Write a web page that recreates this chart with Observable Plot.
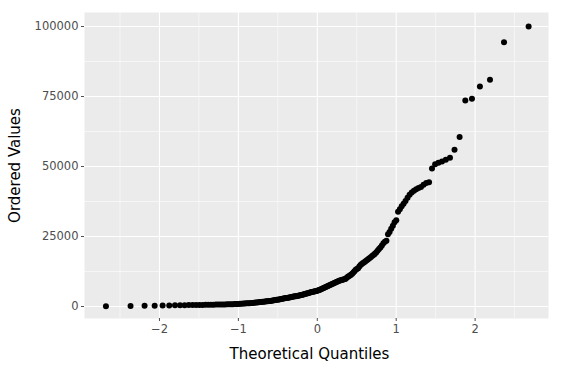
<!DOCTYPE html>
<html>
<head>
<meta charset="utf-8">
<script src="https://cdn.jsdelivr.net/npm/d3@7"></script>
<script src="https://cdn.jsdelivr.net/npm/@observablehq/plot@0.6"></script>
<style>
  html, body { margin: 0; padding: 0; background: #ffffff; }
  #chart svg { font-family: "DejaVu Sans", sans-serif; display: block; }
</style>
</head>
<body>
<div id="chart"></div>
<script>
// Ordered (sorted) sample values, lowest to highest
const orderedValues = [
  100, 200, 260, 300, 340, 380, 410, 440, 470, 490,
  510, 530, 550, 570, 590, 610, 630, 650, 670, 690,
  710, 730, 750, 770, 790, 810, 830, 850, 870, 900,
  940, 980, 1030, 1070, 1120, 1160, 1200, 1240, 1280, 1330,
  1390, 1440, 1500, 1560, 1610, 1670, 1730, 1790, 1840, 1890,
  1950, 2000, 2070, 2140, 2220, 2290, 2370, 2440, 2510, 2580,
  2660, 2750, 2830, 2910, 2990, 3070, 3150, 3230, 3310, 3380,
  3460, 3540, 3620, 3690, 3770, 3850, 3920, 4000, 4100, 4210,
  4320, 4420, 4530, 4630, 4740, 4850, 4960, 5050, 5150, 5230,
  5330, 5420, 5510, 5600, 5760, 5930, 6100, 6280, 6430, 6600,
  6770, 6950, 7140, 7320, 7500, 7670, 7840, 8020, 8200, 8360,
  8540, 8720, 8890, 9070, 9240, 9370, 9490, 9600, 9720, 9840,
  10200, 10500, 10800, 11100, 11300, 11700, 12100, 12600, 13100, 13400,
  13700, 14300, 14800, 15200, 15500, 15800, 16200, 16500, 16900, 17200,
  17600, 18000, 18400, 18800, 19300, 19900, 20500, 21100, 21800, 22600,
  23100, 23500, 25800, 26600, 27800, 28800, 30100, 30800, 33800, 34700,
  35800, 36700, 37700, 38800, 39900, 40700, 41300, 41900, 42300, 42700,
  43500, 44100, 44400, 49300, 50800, 51300, 51800, 52400, 53100, 56000,
  60500, 73600, 74200, 78600, 81000, 94400, 100000
];

const xTicks = [-2, -1, 0, 1, 2];
const xMinorTicks = [-2.5, -1.5, -0.5, 0.5, 1.5, 2.5];
const yTicks = [0, 25000, 50000, 75000, 100000];
const yMinorTicks = [12500, 37500, 62500, 87500];
const xTitle = "Theoretical Quantiles";
const yTitle = "Ordered Values";

// Inverse standard normal CDF (Acklam)
function normInv(p) {
  const a = [-3.969683028665376e+01, 2.209460984245205e+02, -2.759285104469687e+02, 1.383577518672690e+02, -3.066479806614716e+01, 2.506628277459239e+00];
  const b = [-5.447609879822406e+01, 1.615858368580409e+02, -1.556989798598866e+02, 6.680131188771972e+01, -1.328068155288572e+01];
  const c = [-7.784894002430293e-03, -3.223964580411365e-01, -2.400758277161838e+00, -2.549732539343734e+00, 4.374664141464968e+00, 2.938163982698783e+00];
  const d = [7.784695709041462e-03, 3.224671290700398e-01, 2.445134137142996e+00, 3.754408661907416e+00];
  const pl = 0.02425, ph = 1 - pl;
  let q, r;
  if (p < pl) {
    q = Math.sqrt(-2 * Math.log(p));
    return (((((c[0]*q+c[1])*q+c[2])*q+c[3])*q+c[4])*q+c[5]) / ((((d[0]*q+d[1])*q+d[2])*q+d[3])*q+1);
  } else if (p <= ph) {
    q = p - 0.5; r = q * q;
    return (((((a[0]*r+a[1])*r+a[2])*r+a[3])*r+a[4])*r+a[5])*q / (((((b[0]*r+b[1])*r+b[2])*r+b[3])*r+b[4])*r+1);
  } else {
    q = Math.sqrt(-2 * Math.log(1 - p));
    return -(((((c[0]*q+c[1])*q+c[2])*q+c[3])*q+c[4])*q+c[5]) / ((((d[0]*q+d[1])*q+d[2])*q+d[3])*q+1);
  }
}

// Filliben order-statistic medians (theoretical quantiles)
const n = orderedValues.length;
const data = orderedValues.map((v, i) => {
  let p;
  if (i === n - 1) p = Math.pow(0.5, 1 / n);
  else if (i === 0) p = 1 - Math.pow(0.5, 1 / n);
  else p = (i + 1 - 0.3175) / (n + 0.365);
  return { q: normInv(p), v };
});

const chart = Plot.plot({
  width: 562,
  height: 371,
  marginLeft: 84,
  marginRight: 14,
  marginTop: 12,
  marginBottom: 53,
  style: { fontFamily: "DejaVu Sans, sans-serif", background: "#ffffff" },
  x: { domain: [-2.95, 2.93] },
  y: { domain: [-4290, 105000] },
  marks: [
    Plot.frame({ fill: "#EBEBEB", stroke: null }),
    Plot.gridX({ ticks: xMinorTicks, stroke: "#ffffff", strokeOpacity: 1, strokeWidth: 0.55 }),
    Plot.gridY({ ticks: yMinorTicks, stroke: "#ffffff", strokeOpacity: 1, strokeWidth: 0.55 }),
    Plot.gridX({ ticks: xTicks, stroke: "#ffffff", strokeOpacity: 1, strokeWidth: 1.1 }),
    Plot.gridY({ ticks: yTicks, stroke: "#ffffff", strokeOpacity: 1, strokeWidth: 1.1 }),
    Plot.axisX({ ticks: xTicks, tickSize: 3, tickPadding: 3, fontSize: 11.5, color: "#4D4D4D", label: null, tickFormat: d => d < 0 ? "\u2212" + Math.abs(d) : String(d) }),
    Plot.axisY({ ticks: yTicks, tickSize: 3, tickPadding: 3, fontSize: 11.5, color: "#4D4D4D", label: null, tickFormat: d => String(d) }),
    Plot.dot(data, { x: "q", y: "v", r: 3, fill: "#000000", stroke: null }),
    Plot.text([xTitle], { text: d => d, frameAnchor: "bottom", dx: -7, dy: 36, fontSize: 15, fill: "#000000", lineAnchor: "middle", textAnchor: "middle" }),
    Plot.text([yTitle], { text: d => d, frameAnchor: "left", dx: -69, rotate: -90, fontSize: 15, fill: "#000000", lineAnchor: "middle", textAnchor: "middle" })
  ]
});
document.getElementById("chart").appendChild(chart);
</script>
</body>
</html>
